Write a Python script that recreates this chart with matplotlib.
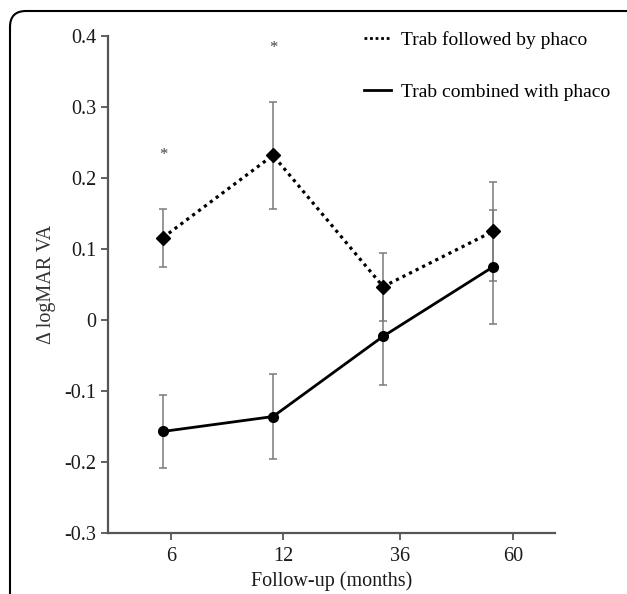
import numpy as np
import matplotlib
matplotlib.use("Agg")
import matplotlib.pyplot as plt
from matplotlib.lines import Line2D
from matplotlib.patches import FancyBboxPatch
from matplotlib.transforms import IdentityTransform

plt.rcParams['font.family'] = ['Liberation Serif', 'DejaVu Serif']

# follow-up time points (months)
months = ["6", "12", "36", "60"]

# trab followed by phaco
seq_mean = [0.116, 0.232, 0.047, 0.125]
seq_err = [0.041, 0.075, 0.048, 0.070]

# trab combined with phaco
comb_mean = [-0.157, -0.136, -0.023, 0.075]
comb_err = [0.052, 0.060, 0.068, 0.080]

# significance marks
star_idx = [0, 1]
star_y = [0.232, 0.383]

x = np.arange(len(months))
tick_pos = [0.073, 1.09, 2.15, 3.18]  # ticks sit a bit right of the points

fig = plt.figure(figsize=(6.27, 5.94), dpi=100)
ax = fig.add_axes([0.172, 0.1027, 0.713, 0.8367])

grey = "#7a7a7a"
ax.errorbar(x, seq_mean, yerr=seq_err, fmt="none", ecolor=grey, elinewidth=1.1,
            capsize=3, capthick=1.1, zorder=2)
ax.errorbar(x, comb_mean, yerr=comb_err, fmt="none", ecolor=grey, elinewidth=1.1,
            capsize=3, capthick=1.1, zorder=2)

ax.plot(x, seq_mean, color="black", linestyle=(0, (1, 1.3)), linewidth=2.3,
        marker="D", markersize=7, zorder=3)
ax.plot(x, comb_mean, color="black", linestyle="-", linewidth=2,
        marker="o", markersize=7, zorder=3)

for i, yv in zip(star_idx, star_y):
    ax.text(x[i], yv, "*", ha="center", va="center", fontsize=12, color="#444444")

ax.set_xlim(-0.5, 3.56)
ax.set_ylim(-0.3, 0.4)
ax.set_xticks(tick_pos)
ax.set_xticklabels(months)
ax.set_yticks([0.4, 0.3, 0.2, 0.1, 0, -0.1, -0.2, -0.3])
ax.set_yticklabels(["0.4", "0.3", "0.2", "0.1", "0", "-0.1", "-0.2", "-0.3"])

for s in ["top", "right"]:
    ax.spines[s].set_visible(False)
for s in ["left", "bottom"]:
    ax.spines[s].set_color("#555555")
    ax.spines[s].set_linewidth(1.6)
ax.tick_params(axis="both", colors="#555555", width=1.3, length=5,
               labelsize=14.5, labelcolor="#1a1a1a")
ax.tick_params(axis="x", pad=5)

ax.set_xlabel("Follow-up (months)", fontsize=14.5, labelpad=4, color="#1a1a1a")
ax.set_ylabel("Δ logMAR VA", fontsize=14.5, labelpad=6, color="#333333")

handles = [Line2D([], [], color="black", linestyle=(0, (1, 1.0)), linewidth=2),
           Line2D([], [], color="black", linestyle="-", linewidth=2)]
ax.legend(handles, ["Trab followed by phaco", "Trab combined with phaco"],
          loc="upper left", bbox_to_anchor=(0.572, 1.01), frameon=False,
          fontsize=14, handlelength=1.4, handletextpad=0.5, labelspacing=1.75,
          borderpad=0, borderaxespad=0)

# frame round the picture (runs off right and bottom edges)
box = FancyBboxPatch((10, -60), 640, 594 - 11 + 60,
                     boxstyle="round,pad=0,rounding_size=16",
                     transform=IdentityTransform(), fill=False,
                     edgecolor="black", linewidth=1.5)
fig.patches.append(box)

fig.savefig("out.png", dpi=100)
